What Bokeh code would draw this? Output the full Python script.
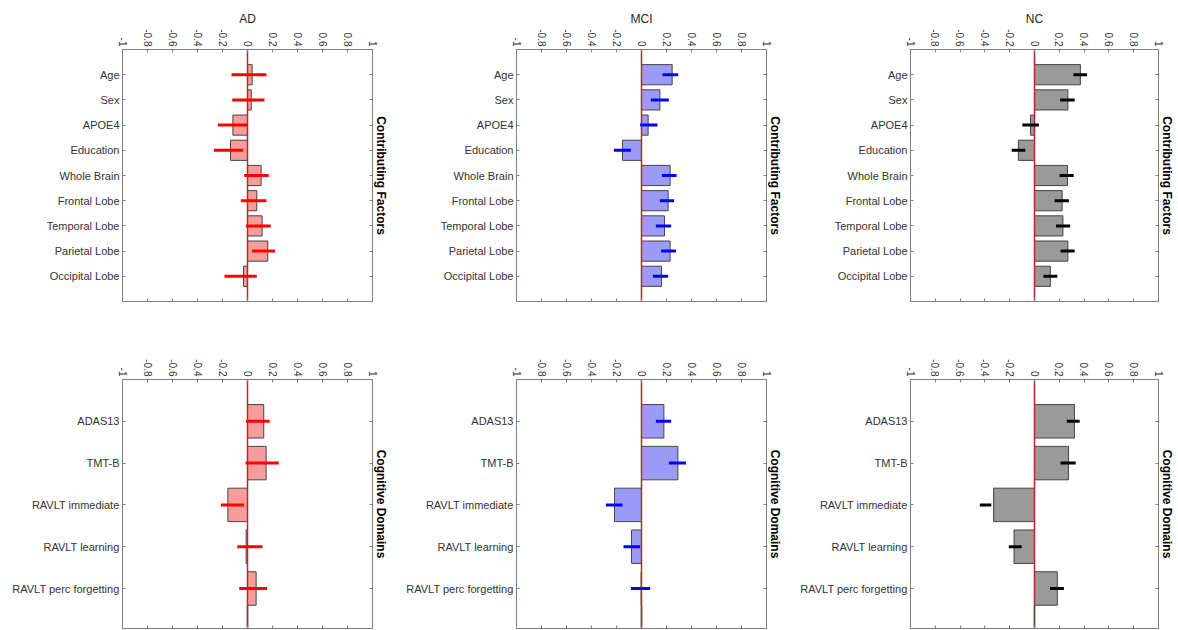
import math
from bokeh.plotting import figure
from bokeh.models import LinearAxis, FixedTicker, Range1d
from bokeh.layouts import column, row
from bokeh.embed import file_html
from bokeh.resources import INLINE

# ---------------- data ----------------
groups = ["AD", "MCI", "NC"]

factors = ["Age", "Sex", "APOE4", "Education", "Whole Brain", "Frontal Lobe",
           "Temporal Lobe", "Parietal Lobe", "Occipital Lobe"]
domains = ["ADAS13", "TMT-B", "RAVLT immediate", "RAVLT learning", "RAVLT perc forgetting"]

x_ticks = [-1, -0.8, -0.6, -0.4, -0.2, 0, 0.2, 0.4, 0.6, 0.8, 1]
x_tick_labels = ["-1", "-0.8", "-0.6", "-0.4", "-0.2", "0", "0.2", "0.4", "0.6", "0.8", "1"]

ad_factor = [0.037, 0.030, -0.117, -0.136, 0.109, 0.074, 0.117, 0.162, -0.032]
ad_factor_lo = [-0.128, -0.122, -0.237, -0.269, -0.027, -0.053, -0.013, 0.037, -0.184]
ad_factor_hi = [0.152, 0.136, 0.000, -0.035, 0.170, 0.152, 0.186, 0.221, 0.074]

mci_factor = [0.245, 0.147, 0.053, -0.152, 0.229, 0.213, 0.184, 0.229, 0.160]
mci_factor_lo = [0.168, 0.075, -0.011, -0.221, 0.163, 0.147, 0.115, 0.157, 0.091]
mci_factor_hi = [0.293, 0.219, 0.128, -0.085, 0.280, 0.261, 0.237, 0.275, 0.213]

nc_factor = [0.370, 0.269, -0.032, -0.130, 0.266, 0.223, 0.229, 0.269, 0.128]
nc_factor_lo = [0.314, 0.207, -0.098, -0.184, 0.202, 0.162, 0.173, 0.210, 0.072]
nc_factor_hi = [0.423, 0.324, 0.035, -0.074, 0.316, 0.277, 0.287, 0.324, 0.184]

ad_domain = [0.130, 0.149, -0.157, -0.011, 0.069]
ad_domain_lo = [-0.011, -0.016, -0.213, -0.082, -0.066]
ad_domain_hi = [0.178, 0.250, -0.027, 0.120, 0.157]

mci_domain = [0.179, 0.291, -0.216, -0.080, -0.003]
mci_domain_lo = [0.115, 0.219, -0.285, -0.144, -0.085]
mci_domain_hi = [0.237, 0.355, -0.152, -0.011, 0.069]

nc_domain = [0.322, 0.274, -0.330, -0.165, 0.184]
nc_domain_lo = [0.261, 0.210, -0.441, -0.207, 0.125]
nc_domain_hi = [0.364, 0.332, -0.348, -0.104, 0.237]

bar_fills = ["#f99c9c", "#9c9cf7", "#9a9a9a"]
err_colors = ["#ff0000", "#0000ff", "#000000"]

# ---------------- styling ----------------
FONT = "Liberation Sans"
AXIS_COL = "#808080"
TEXT_COL = "#333333"
ZERO_COL = "#b22a2a"


def style_axis(ax, ticker, overrides, font_size):
    ax.ticker = ticker
    ax.major_label_overrides = overrides
    ax.major_tick_in = 3
    ax.major_tick_out = 0
    ax.minor_tick_in = 0
    ax.minor_tick_out = 0
    ax.axis_line_color = AXIS_COL
    ax.major_tick_line_color = AXIS_COL
    ax.major_label_text_font = FONT
    ax.major_label_text_font_size = font_size
    ax.major_label_text_color = TEXT_COL


def make_panel(title, cats, vals, lo, hi, fill, ecol, side_label, y_end,
               frame_w, frame_h, left_b, right_b, top_b, bottom_b, dark_tail):
    n = len(cats)
    pos = list(range(1, n + 1))
    p = figure(frame_width=frame_w, frame_height=frame_h,
               x_range=Range1d(-1, 1), y_range=Range1d(y_end, 0),
               output_backend="svg", toolbar_location=None,
               x_axis_location="above", y_axis_location="left",
               min_border_left=left_b, min_border_right=right_b,
               min_border_top=top_b, min_border_bottom=bottom_b,
               background_fill_color="white", border_fill_color="white")
    if title:
        p.title.text = title
        p.title.align = "center"
        p.title.text_font = FONT
        p.title.text_font_size = "12px"
        p.title.text_font_style = "normal"
        p.title.text_color = "#262626"
        p.title.standoff = 2
    p.xgrid.visible = False
    p.ygrid.visible = False
    p.outline_line_color = AXIS_COL

    xover = {t: s for t, s in zip(x_ticks, x_tick_labels)}
    xblank = {t: "" for t in x_ticks}
    yover = {t: s for t, s in zip(pos, cats)}
    yblank = {t: "" for t in pos}

    top_ax = p.xaxis[0]
    style_axis(top_ax, FixedTicker(ticks=x_ticks), xover, "10px")
    top_ax.major_label_orientation = -math.pi / 2
    top_ax.major_label_standoff = 3

    bot_ax = LinearAxis()
    style_axis(bot_ax, FixedTicker(ticks=x_ticks), xblank, "10px")
    bot_ax.major_label_standoff = 0
    p.add_layout(bot_ax, "below")

    left_ax = p.yaxis[0]
    style_axis(left_ax, FixedTicker(ticks=pos), yover, "11px")
    left_ax.major_label_standoff = 3

    right_ax = LinearAxis()
    style_axis(right_ax, FixedTicker(ticks=pos), yblank, "11px")
    right_ax.major_label_standoff = 0
    right_ax.axis_label = side_label
    right_ax.axis_label_text_font = FONT
    right_ax.axis_label_text_font_size = "12px"
    right_ax.axis_label_text_font_style = "bold"
    right_ax.axis_label_text_color = "#000000"
    right_ax.axis_label_standoff = 1
    p.add_layout(right_ax, "right")

    p.hbar(y=pos, left=0, right=vals, height=0.8, fill_color=fill,
           line_color="#454545", line_width=1)
    p.vspan(x=[0], line_color=ZERO_COL, line_width=1.5)
    if dark_tail:
        p.segment(x0=[0], y0=[n + 0.4], x1=[0], y1=[y_end],
                  line_color="#555555", line_width=1.5)
    p.segment(x0=lo, y0=pos, x1=hi, y1=pos, line_color=ecol, line_width=3)
    return p


top_vals = [(ad_factor, ad_factor_lo, ad_factor_hi),
            (mci_factor, mci_factor_lo, mci_factor_hi),
            (nc_factor, nc_factor_lo, nc_factor_hi)]
bot_vals = [(ad_domain, ad_domain_lo, ad_domain_hi),
            (mci_domain, mci_domain_lo, mci_domain_hi),
            (nc_domain, nc_domain_lo, nc_domain_hi)]
left_borders = [122, 126, 126]
right_borders = [16, 16, 20]
frame_widths = [250, 250, 248]

top_row = []
bot_row = []
for i, g in enumerate(groups):
    v, lo, hi = top_vals[i]
    top_row.append(make_panel(g, factors, v, lo, hi, bar_fills[i], err_colors[i],
                              "Contributing Factors", 10, frame_widths[i], 252,
                              left_borders[i], right_borders[i], 49, 18, False))
    v, lo, hi = bot_vals[i]
    bot_row.append(make_panel(None, domains, v, lo, hi, bar_fills[i], err_colors[i],
                              "Cognitive Domains", 249 / 41.8, frame_widths[i], 249,
                              left_borders[i], right_borders[i], 60, 2, True))

layout = column(row(*top_row), row(*bot_row))
open("out.html", "w").write(file_html(layout, INLINE))
